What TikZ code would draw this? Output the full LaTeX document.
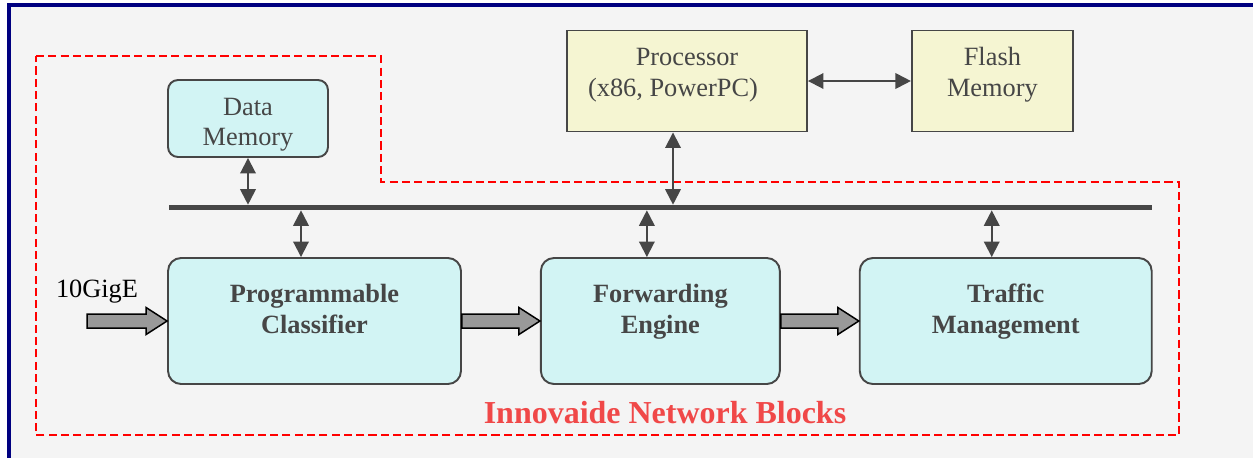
\documentclass[tikz,border=0pt]{standalone}
\usepackage{fontspec}
\setmainfont{Liberation Serif}
\usepackage{xcolor}
\usepackage{tikz}
\usetikzlibrary{arrows.meta,positioning,calc}

\definecolor{framenavy}{HTML}{000080}
\definecolor{panelgray}{HTML}{F4F4F4}
\definecolor{inkgray}{HTML}{464646}
\definecolor{blockcyan}{HTML}{D2F4F4}
\definecolor{hostyellow}{HTML}{F5F5D2}
\definecolor{labelred}{HTML}{F04848}
\definecolor{pipegray}{HTML}{999999}

\newcommand{\lifted}[2]{\raisebox{#1}[0pt][0pt]{\begin{tabular}{@{}c@{}}#2\end{tabular}}}

\begin{document}
\begin{tikzpicture}[
    x=0.02cm, y=-0.02cm,
    node distance=1.56cm,
    block/.style={draw=inkgray, line width=1.1pt, rounded corners=0.26cm, fill=blockcyan, text=inkgray,
      minimum height=2.52cm, inner sep=0pt, font=\fontsize{15}{17.6}\selectfont\bfseries},
    memory/.style={draw=inkgray, line width=1.1pt, rounded corners=0.2cm, fill=blockcyan, text=inkgray,
      minimum width=3.2cm, minimum height=1.54cm, inner sep=0pt, font=\fontsize{15}{17.6}\selectfont},
    host/.style={draw=inkgray, line width=1.1pt, fill=hostyellow, text=inkgray,
      minimum height=2.02cm, inner sep=0pt, font=\fontsize{15}{17.6}\selectfont},
    link/.style={<->, >={Triangle[length=0.31cm,width=0.31cm]}, draw=inkgray, line width=1.1pt},
    pipe/.style={draw=black, line width=0.85pt, fill=pipegray, line join=miter},
    bus/.style={draw=inkgray, line width=3.2pt},
    region/.style={draw=red, line width=1.1pt, dash pattern=on 4.6pt off 2.4pt}
]
    \useasboundingbox (0,0) rectangle (1253,457);
    \clip (0,0) rectangle (1253,457);
    \draw[framenavy, line width=2.2pt, fill=panelgray] (9,5) rectangle (1300,500);

    % network blocks region
    \draw[region] (36,56) -- (381,56) -- (381,182) -- (1179,182) -- (1179,435) -- (36,435) -- cycle;

    % blocks
    \node[block, minimum width=5.86cm] (cls) at (314.5,321) {\lifted{1.4pt}{Programmable\\Classifier}};
    \node[block, minimum width=4.78cm, right=of cls] (fwd) {\lifted{1.4pt}{Forwarding\\Engine}};
    \node[block, minimum width=5.84cm, right=of fwd] (trf) {\lifted{1.4pt}{Traffic\\Management}};
    \node[memory] (dmem) at (248,118.5) {\lifted{-6.9pt}{Data\\Memory}};
    \node[host, minimum width=4.8cm] (cpu) at (687,81) {\lifted{0pt}{Processor\\(x86, PowerPC)\hspace*{0.56cm}}};
    \node[host, minimum width=3.22cm, right=2.06cm of cpu] (flash) {\lifted{0pt}{Flash\\Memory}};

    % bus
    \coordinate (busW) at (169,207.5);
    \coordinate (busE) at (1152,207.5);
    \draw[bus] (busW) -- (busE);

    \draw[link, shorten >=1.6pt] (dmem.south) -- (dmem.south |- busW);
    \draw[link, shorten >=1.6pt] ([xshift=-0.28cm]cpu.south) -- ([xshift=-0.28cm]cpu.south |- busW);
    \draw[link, shorten <=1.6pt] ([xshift=-0.27cm]cls.north |- busW) -- ([xshift=-0.27cm]cls.north);
    \draw[link, shorten <=1.6pt] ([xshift=-0.27cm]fwd.north |- busW) -- ([xshift=-0.27cm]fwd.north);
    \draw[link, shorten <=1.6pt] ([xshift=-0.28cm]trf.north |- busW) -- ([xshift=-0.28cm]trf.north);
    \draw[link] (cpu) -- (flash);

    % data path
    \coordinate[left=1.6cm of cls.west] (gig);
    \node[font=\fontsize{15}{17.6}\selectfont, inner sep=0pt] (giglabel) at (97,292) {10GigE};
    \draw[pipe] ($(gig)+(0,-7)$) -- ($(cls.west)+(-21,-7)$) -- ($(cls.west)+(-21,-13.5)$) -- (cls.west)
        -- ($(cls.west)+(-21,13.5)$) -- ($(cls.west)+(-21,7)$) -- ($(gig)+(0,7)$) -- cycle;
    \draw[pipe] ($(cls.east)+(0,-7)$) -- ($(fwd.west)+(-21,-7)$) -- ($(fwd.west)+(-21,-13.5)$) -- (fwd.west)
        -- ($(fwd.west)+(-21,13.5)$) -- ($(fwd.west)+(-21,7)$) -- ($(cls.east)+(0,7)$) -- cycle;
    \draw[pipe] ($(fwd.east)+(0,-7)$) -- ($(trf.west)+(-21,-7)$) -- ($(trf.west)+(-21,-13.5)$) -- (trf.west)
        -- ($(trf.west)+(-21,13.5)$) -- ($(trf.west)+(-21,7)$) -- ($(fwd.east)+(0,7)$) -- cycle;

    \node[text=labelred, font=\fontsize{18.2}{21}\selectfont\bfseries] (title) at (665,412.5) {Innovaide Network Blocks};
\end{tikzpicture}
\end{document}
